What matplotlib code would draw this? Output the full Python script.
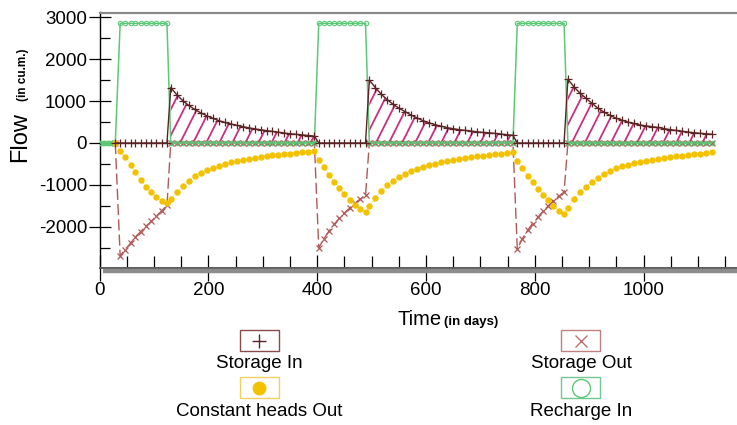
import matplotlib
matplotlib.use('Agg')
import matplotlib.pyplot as plt
from matplotlib.patches import Rectangle
from matplotlib.ticker import MultipleLocator
from matplotlib.lines import Line2D
from matplotlib.path import Path
from matplotlib.collections import LineCollection
import numpy as np

plt.rcParams['font.family'] = ['Liberation Sans', 'DejaVu Sans']
plt.rcParams['axes.unicode_minus'] = False

# ---------------- data (days, cu.m.) ----------------
time = [29,
        38, 47, 57, 66, 76, 85, 95, 104, 114, 124,
        131, 142, 153, 164, 175, 186, 197, 208, 219, 230, 241, 252, 263,
        274, 285, 296, 307, 318, 329, 340, 351, 362, 373, 384, 395,
        403, 412, 422, 431, 441, 450, 460, 469, 479, 489,
        496, 507, 518, 529, 540, 551, 562, 573, 584, 595, 606, 617, 628,
        639, 650, 661, 672, 683, 694, 705, 716, 727, 738, 749, 760,
        768, 777, 787, 796, 806, 815, 825, 834, 844, 854,
        861, 872, 883, 894, 905, 916, 927, 938, 949, 960, 971, 982, 993,
        1004, 1015, 1026, 1037, 1048, 1059, 1070, 1081, 1092, 1103, 1114, 1125]

storage_in = [0,
              0, 0, 0, 0, 0, 0, 0, 0, 0, 0,
              1320, 1150, 1010, 895, 800, 720, 650, 590, 535, 490, 455, 420, 390,
              362, 337, 315, 295, 275, 256, 236, 220, 206, 192, 178, 163,
              0, 0, 0, 0, 0, 0, 0, 0, 0, 0,
              1500, 1320, 1160, 1030, 920, 825, 745, 665, 595, 530, 480, 435, 400,
              365, 340, 318, 300, 283, 265, 252, 242, 228, 212, 197, 183,
              0, 0, 0, 0, 0, 0, 0, 0, 0, 0,
              1520, 1340, 1190, 1070, 950, 830, 740, 660, 595, 545, 500, 465, 430,
              408, 390, 370, 345, 320, 300, 280, 262, 245, 232, 220, 210]

storage_out = [0,
               -2690, -2540, -2390, -2240, -2110, -1990, -1870, -1750, -1620, -1490,
               0, 0, 0, 0, 0, 0, 0, 0, 0, 0, 0, 0, 0,
               0, 0, 0, 0, 0, 0, 0, 0, 0, 0, 0, 0,
               -2500, -2290, -2100, -1940, -1800, -1670, -1550, -1440, -1340, -1250,
               0, 0, 0, 0, 0, 0, 0, 0, 0, 0, 0, 0, 0,
               0, 0, 0, 0, 0, 0, 0, 0, 0, 0, 0, 0,
               -2530, -2290, -2080, -1920, -1770, -1630, -1500, -1380, -1270, -1170,
               0, 0, 0, 0, 0, 0, 0, 0, 0, 0, 0, 0, 0,
               0, 0, 0, 0, 0, 0, 0, 0, 0, 0, 0, 0]

const_heads_out = [0,
                   -180, -337, -520, -690, -880, -1040, -1170, -1290, -1380, -1440,
                   -1340, -1180, -1030, -895, -790, -710, -650, -590, -540, -500, -462, -428, -398,
                   -377, -355, -334, -312, -296, -282, -266, -252, -237, -223, -208, -193,
                   -400, -580, -760, -920, -1070, -1210, -1350, -1470, -1570, -1650,
                   -1500, -1300, -1140, -1010, -900, -805, -730, -665, -610, -565, -525, -490, -460,
                   -432, -405, -382, -360, -340, -320, -302, -285, -268, -252, -237, -222,
                   -420, -600, -780, -940, -1090, -1230, -1370, -1500, -1610, -1700,
                   -1540, -1330, -1165, -1040, -920, -825, -735, -660, -600, -555, -515, -482, -455,
                   -430, -405, -382, -360, -342, -320, -300, -285, -270, -255, -238, -222]

recharge_in = [0,
               2850, 2850, 2850, 2850, 2850, 2850, 2850, 2850, 2850, 2850,
               0, 0, 0, 0, 0, 0, 0, 0, 0, 0, 0, 0, 0,
               0, 0, 0, 0, 0, 0, 0, 0, 0, 0, 0, 0,
               2850, 2850, 2850, 2850, 2850, 2850, 2850, 2850, 2850, 2850,
               0, 0, 0, 0, 0, 0, 0, 0, 0, 0, 0, 0, 0,
               0, 0, 0, 0, 0, 0, 0, 0, 0, 0, 0, 0,
               2850, 2850, 2850, 2850, 2850, 2850, 2850, 2850, 2850, 2850,
               0, 0, 0, 0, 0, 0, 0, 0, 0, 0, 0, 0, 0,
               0, 0, 0, 0, 0, 0, 0, 0, 0, 0, 0, 0]

recharge_init_time = [0, 3, 6, 9, 12, 15, 18, 21, 24, 27]
recharge_init_vals = [0, 0, 0, 0, 0, 0, 0, 0, 0, 0]

x_ticks = [0, 200, 400, 600, 800, 1000]
y_ticks = [-2000, -1000, 0, 1000, 2000, 3000]

legend_labels = ['Storage In', 'Storage Out', 'Constant heads Out', 'Recharge In']

# ---------------- styles ----------------
C_SI = '#5a2424'
C_SO = '#b05a5a'
C_CH = '#f2c200'
C_RE = '#5cc878'
C_HATCH = '#c8307f'

W, H = 737, 425
fig = plt.figure(figsize=(W / 100, H / 100), dpi=100)
ax = fig.add_axes([99.5 / W, 1 - 268 / H, 1 - 99.5 / W, (268 - 12.5) / H])

t = np.array(time)
si = np.array(storage_in)

ax.set_xlim(0, (W - 99.5) / 0.544)
ax.set_ylim(-2980, 3110)

# hatched area under Storage In (custom steep hatch, clipped to the area)
fill = ax.fill_between(t, 0, si, where=si > 0, facecolor='none', edgecolor='none',
                       linewidth=0, zorder=1)
clip = Path.make_compound_path(*fill.get_paths())
hatch_step = 24            # days between hatch lines
hatch_dx, hatch_dy = 62, 1600
starts = np.arange(100, 1180, hatch_step)
segs = [[(x0, 0), (x0 + hatch_dx, hatch_dy)] for x0 in starts]
lc = LineCollection(segs, colors=C_HATCH, linewidths=1.3, zorder=1)
ax.add_collection(lc)
lc.set_clip_path(clip, ax.transData)

ax.plot(t, storage_out, color=C_SO, lw=1.0, ls=(0, (8, 3)), marker='x', ms=4.5,
        mew=0.9, zorder=2)
ax.plot(recharge_init_time + time, recharge_init_vals + recharge_in, color=C_RE,
        lw=1.1, marker='o', ms=3.2, mfc='none', mew=0.8, zorder=3)
ax.plot(t, const_heads_out, color=C_CH, lw=0.6, ls=':', marker='o', ms=3.6,
        mec=C_CH, zorder=4)
ax.plot(t, storage_in, color=C_SI, lw=1.0, marker='+', ms=5.5, mew=0.9, zorder=5)

ax.set_xticks(x_ticks)
ax.set_yticks(y_ticks)
ax.xaxis.set_minor_locator(MultipleLocator(50))
ax.yaxis.set_minor_locator(MultipleLocator(500))
ax.tick_params(axis='x', which='major', direction='inout', length=18.5, width=0.9,
               labelsize=13.5, pad=1.0, colors='black')
ax.tick_params(axis='x', which='minor', direction='in', length=8.5, width=0.9)
ax.tick_params(axis='y', which='major', direction='inout', length=16, width=0.9,
               labelsize=13.5, pad=1.0)
ax.tick_params(axis='y', which='minor', direction='in', length=7.5, width=0.9)

ax.spines['right'].set_visible(False)
ax.spines['top'].set_color('#8a8a8a')
ax.spines['top'].set_linewidth(1.6)
ax.spines['left'].set_color('black')
ax.spines['left'].set_linewidth(1.0)
ax.spines['bottom'].set_color('#5a5a5a')
ax.spines['bottom'].set_linewidth(1.4)
ax.patch.set_visible(False)

# overlay in pixel coordinates for labels, shadow and legend
ov = fig.add_axes([0, 0, 1, 1])
ov.set_xlim(0, W)
ov.set_ylim(H, 0)
ov.axis('off')
ov.patch.set_visible(False)

ov.add_line(Line2D([103, W], [270.5, 270.5], color='#8c8c8c', lw=3.2,
                   solid_capstyle='butt', zorder=0))

ov.text(26, 162, 'Flow', rotation=90, rotation_mode='anchor', ha='left',
        va='baseline', fontsize=17)
ov.text(26, 101, '(in cu.m.)', rotation=90, rotation_mode='anchor', ha='left',
        va='baseline', fontsize=8.5, fontweight='bold')
ov.text(398, 325, 'Time', ha='left', va='baseline', fontsize=14.5)
ov.text(444, 325, '(in days)', ha='left', va='baseline', fontsize=9.5,
        fontweight='bold')

entries = [
    (259.5, 340.5, 368, dict(marker='+', color=C_SI, ms=10, mew=1.0), '#8b4a4a'),
    (581.0, 340.5, 368, dict(marker='x', color='#c07070', ms=9, mew=1.0), '#c08080'),
    (259.5, 387.5, 416, dict(marker='o', color=C_CH, ms=9, mec=C_CH), '#f0d060'),
    (581.0, 387.5, 416, dict(marker='o', color=C_RE, ms=13, mfc='none', mew=1.0), '#70c890'),
]
for (cx, cy, by, mk, ec), lab in zip(entries, legend_labels):
    ov.add_patch(Rectangle((cx - 19.5, cy - 10.5), 39, 21, facecolor='white',
                           edgecolor=ec, lw=1.0))
    ov.plot([cx], [cy], ls='none', **mk)
    ov.text(cx, by, lab, ha='center', va='baseline', fontsize=13.5)

fig.savefig('out.png', dpi=100)
